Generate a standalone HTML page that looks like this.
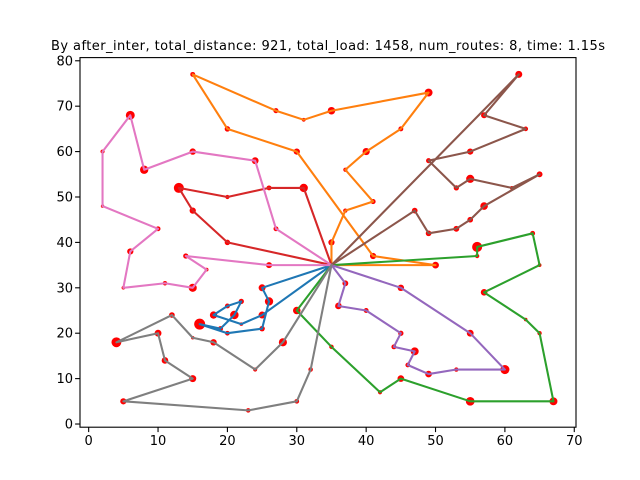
<!DOCTYPE html>
<html><head><meta charset="utf-8"><style>
body{margin:0;background:#fff}
svg{display:block;font-family:"DejaVu Sans","Liberation Sans",sans-serif}
</style></head><body>
<svg id="chart" width="640" height="480" xmlns="http://www.w3.org/2000/svg">
<rect width="640" height="480" fill="#fff"/>
<text x="328" y="50" font-size="13" text-anchor="middle" textLength="554">By after_inter, total_distance: 921, total_load: 1458, num_routes: 8, time: 1.15s</text>
<g id="plot"></g>
<rect x="80" y="57.6" width="496" height="369.6" fill="none" stroke="#000" stroke-width="1.1"/>
<g id="axes"></g>
</svg>
<script>
const depot = [35, 35];
const xTicks = [0, 10, 20, 30, 40, 50, 60, 70];
const yTicks = [0, 10, 20, 30, 40, 50, 60, 70, 80];
const routeColors = ["#1f77b4","#ff7f0e","#2ca02c","#d62728","#9467bd","#8c564b","#e377c2","#7f7f7f"];
const route1X = [25,26,25,20,16,19,21,22,20,18,22,25];
const route1Y = [30,27,21,20,22,21,24,27,26,24,22,24];
const route1D = [20,27,12,8,41,10,28,11,9,22,2,20];
const route2X = [35,37,41,37,40,45,49,35,31,27,15,20,30,41,50];
const route2Y = [40,47,49,56,60,65,73,69,67,69,77,65,60,37,35];
const route2D = [16,6,10,5,21,9,25,23,3,10,9,12,16,16,19];
const route3X = [56,56,64,65,57,63,65,67,55,45,42,35,30];
const route3Y = [37,39,42,35,29,23,20,5,5,10,7,17,25];
const route3D = [6,36,9,3,18,2,6,25,29,18,5,7,23];
const route4X = [31,26,20,13,15,20];
const route4Y = [52,52,50,52,47,40];
const route4D = [27,9,5,36,16,12];
const route5X = [45,55,60,53,49,46,47,44,45,40,36,37];
const route5Y = [30,20,12,12,11,13,16,17,20,25,26,31];
const route5D = [17,19,31,6,18,8,25,9,11,9,18,14];
const route6X = [62,57,63,55,49,53,55,61,65,57,55,53,49,47];
const route6Y = [77,68,65,60,58,52,54,52,55,48,45,43,42,47];
const route6D = [20,15,8,16,10,11,26,3,14,23,13,14,13,13];
const route7X = [27,24,15,8,6,2,2,10,6,5,11,15,17,14,26];
const route7Y = [43,58,60,56,68,60,48,43,38,30,31,30,34,37,35];
const route7D = [9,19,17,27,30,5,1,9,16,2,7,26,3,11,15];
const route8X = [28,24,18,15,12,4,10,11,15,5,23,30,32];
const route8Y = [18,12,18,19,24,18,20,14,10,5,3,5,12];
const route8D = [26,5,17,1,13,35,19,18,20,16,7,8,7];
const routesX = [route1X,route2X,route3X,route4X,route5X,route6X,route7X,route8X];
const routesY = [route1Y,route2Y,route3Y,route4Y,route5Y,route6Y,route7Y,route8Y];
const routesD = [route1D,route2D,route3D,route4D,route5D,route6D,route7D,route8D];

const L=80,R=576,T=57.6,B=427.2;
const xmin=-1.25,xmax=70.25,ymin=-0.7,ymax=80.7;
function sx(v){return L+(v-xmin)/(xmax-xmin)*(R-L);}
function sy(v){return B-(v-ymin)/(ymax-ymin)*(B-T);}
const NS="http://www.w3.org/2000/svg";
const plot=document.getElementById('plot');
const axes=document.getElementById('axes');
function mk(tag,attrs,parent){const e=document.createElementNS(NS,tag);for(const k in attrs)e.setAttribute(k,attrs[k]);parent.appendChild(e);return e;}

routesX.forEach((xs,r)=>{
  xs.forEach((x,i)=>{
    const c=mk('circle',{cx:sx(x),cy:sy(routesY[r][i]),r:1.6+routesD[r][i]*0.095,fill:'#ff0000'},plot);
    
    
  });
});
routesX.forEach((xs,r)=>{
  const pts=[[depot[0],depot[1]]].concat(xs.map((x,i)=>[x,routesY[r][i]])).concat([[depot[0],depot[1]]]);
  const p=mk('polyline',{points:pts.map(q=>sx(q[0])+','+sy(q[1])).join(' '),fill:'none',stroke:routeColors[r],'stroke-width':2.08,'stroke-linejoin':'round','stroke-linecap':'square'},plot);
  
  
});
xTicks.forEach(t=>{
  const x=sx(t);
  const l=mk('line',{x1:x,y1:B,x2:x,y2:B+4.9,stroke:'#000','stroke-width':1.1},axes);
  
  
  const tx=mk('text',{x:x,y:B+18,'font-size':13,'text-anchor':'middle'},axes);
  tx.textContent=t;
  
  
});
yTicks.forEach(t=>{
  const y=sy(t);
  const l=mk('line',{x1:L-4.9,y1:y,x2:L,y2:y,stroke:'#000','stroke-width':1.1},axes);
  
  
  const tx=mk('text',{x:L-7,y:y+4.5,'font-size':13,'text-anchor':'end'},axes);
  tx.textContent=t;
  
  
});
</script>
</body></html>
